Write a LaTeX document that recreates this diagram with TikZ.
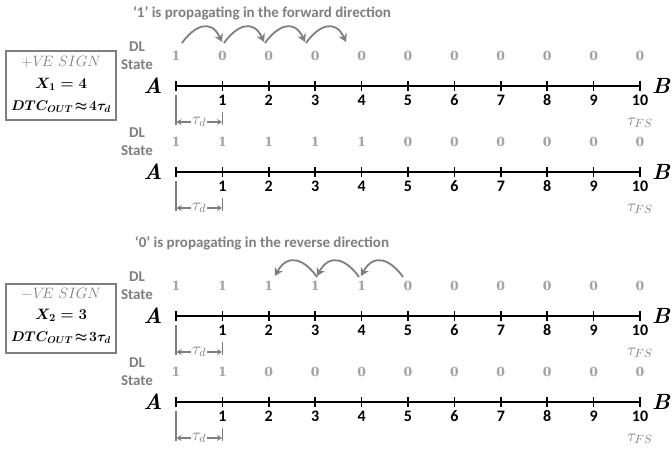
\RequirePackage{fix-cm}
\documentclass[tikz,border=0pt]{standalone}
\usepackage{fontspec}
\newfontfamily\carl{Carlito}
\newfontfamily\sern{DejaVu Serif}
\usepackage{amsmath}
\usetikzlibrary{arrows.meta,calc}
\definecolor{gtxt}{HTML}{7F7F7F}
\definecolor{gstate}{HTML}{A3A3A3}
\tikzset{
  ttl/.style={font=\carl\bfseries\fontsize{15}{18}\selectfont, text=gtxt, inner sep=0pt},
  dlab/.style={font=\carl\bfseries\fontsize{15}{18}\selectfont, text=gtxt, align=center, inner sep=0pt},
  num/.style={font=\carl\bfseries\fontsize{16}{18}\selectfont, inner sep=0pt},
  stt/.style={font=\sern\bfseries\fontsize{12.5}{15}\selectfont, text=gstate, inner sep=0pt},
  endlab/.style={font=\bfseries\itshape\fontsize{22}{24}\selectfont, inner sep=0pt},
  taul/.style={font=\fontsize{17}{18}\selectfont, text=gtxt, inner sep=1pt},
  hop/.style={draw=gtxt, line width=1.8pt, -{Stealth[length=8pt,width=9pt]}},
  axisl/.style={line width=1.8pt},
  tickl/.style={line width=1.5pt},
  brk/.style={draw=gtxt, line width=1.5pt},
  brka/.style={draw=gtxt, line width=1.5pt, -{Stealth[length=5pt,width=6pt]}},
  boxl/.style={draw=gtxt, line width=2pt, minimum width=110pt, minimum height=69pt, inner sep=0pt},
  boxt/.style={font=\fontsize{15}{18}\selectfont, inner sep=0pt},
  boxb/.style={font=\fontsize{15}{18}\selectfont\boldmath, inner sep=0pt},
  boxc/.style={font=\fontsize{14}{18}\selectfont\boldmath, inner sep=0pt}
}
\newcommand\mkrow[3]{%
  \node[dlab] (#3dl) at (137,#1-30) {DL\\State};
  \node[endlab] (#3A) at (153,#1) {A};
  \node[endlab] (#3B) at (661,#1) {B};
  \foreach \s [count=\i from 0] in {#2} {
    \node[stt] (#3s\i) at (176+46.4*\i,#1-30) {\s};
  }
  \foreach \i in {0,...,10} {
    \coordinate (#3t\i) at (176+46.4*\i,#1);
    \draw[tickl] (176+46.4*\i,#1-5) -- (176+46.4*\i,#1+5);
  }
  \draw[axisl] (#3t0) -- (#3t10);
  \foreach \i in {1,...,10} {
    \node[num] (#3n\i) at (176+46.4*\i,#1+14) {\i};
  }
  \coordinate (#3la) at (176,#1+9);
  \coordinate (#3lb) at (176,#1+39);
  \coordinate (#3ra) at (222.4,#1+26);
  \coordinate (#3rb) at (222.4,#1+39);
  \draw[brk] (#3la) -- (#3lb);
  \draw[brk] (#3ra) -- (#3rb);
  \node[taul] (#3td) at (199.2,#1+36) {$\tau_d$};
  \coordinate (#3al) at (176.5,#1+36);
  \coordinate (#3ar) at (222,#1+36);
  \draw[brka] (#3td.west |- #3al) -- (#3al);
  \draw[brka] (#3td.east |- #3ar) -- (#3ar);
  \node[taul] (#3fs) at (640,#1+37) {$\tau_{FS}$};
}
\begin{document}
\begin{tikzpicture}[x=1pt,y=-1pt]
\useasboundingbox[fill=white] (0,0) rectangle (672,451);

% titles
\node[ttl] (t1) at (262,13) {‘1’ is propagating in the forward direction};
\node[ttl] (t2) at (262,243) {‘0’ is propagating in the reverse direction};

% rows
\mkrow{86}{1,0,0,0,0,0,0,0,0,0,0}{ra}
\mkrow{172}{1,1,1,1,1,0,0,0,0,0,0}{rb}
\mkrow{316}{1,1,1,1,1,0,0,0,0,0,0}{rc}
\mkrow{402}{1,1,0,0,0,0,0,0,0,0,0}{rd}

% forward hops
\foreach \a [count=\k] in {182,224,265,306} {
  \coordinate (fs\k) at (\a,43);
  \coordinate (fe\k) at (\a+40,42);
  \draw[hop] (fs\k) .. controls (\a+12,26) and (\a+29,18) .. (fe\k);
}
% reverse hops
\foreach \a [count=\k] in {403,359,317} {
  \coordinate (rs\k) at (\a,277);
  \coordinate (re\k) at (\a-42,276);
  \draw[hop] (rs\k) .. controls (\a-12,260) and (\a-29,252) .. (re\k);
}

% boxes
\node[boxl] (box1) at (61,85.5) {};
\node[boxt, text=gtxt] (b1a) at (61,62) {$+V\!E~SIGN$};
\node[boxb] (b1b) at (61,84) {$X_1 = 4$};
\node[boxc] (b1c) at (61,107) {$DTC_{OUT}\!\approx\!4\tau_d$};

\node[boxl] (box2) at (61,318) {};
\node[boxt, text=gtxt] (b2a) at (61,294) {$-V\!E~SIGN$};
\node[boxb] (b2b) at (61,315) {$X_2 = 3$};
\node[boxc] (b2c) at (61,338) {$DTC_{OUT}\!\approx\!3\tau_d$};
\end{tikzpicture}
\end{document}
